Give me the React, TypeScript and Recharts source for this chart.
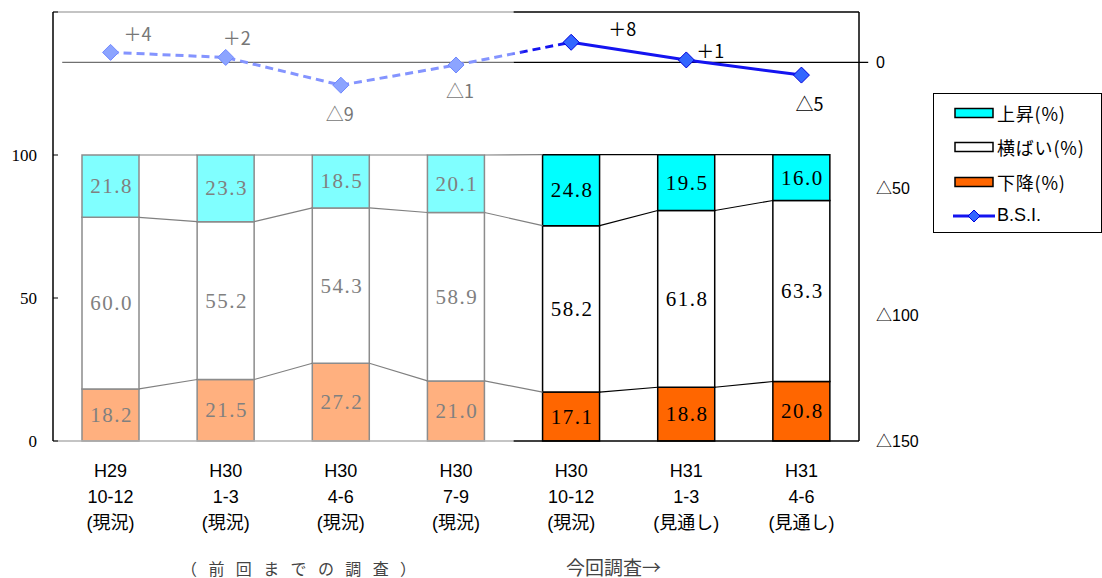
import {
  Bar,
  Cell,
  ComposedChart,
  LabelList,
  Legend,
  Line,
  ReferenceLine,
  XAxis,
  YAxis,
} from "recharts"

// 調査時期
const eras = ["H29", "H30", "H30", "H30", "H30", "H31", "H31"]
const months = ["10-12", "1-3", "4-6", "7-9", "10-12", "1-3", "4-6"]
const statuses = ["(現況)", "(現況)", "(現況)", "(現況)", "(現況)", "(見通し)", "(見通し)"]

// 構成比 (%)
const rise = [21.8, 23.3, 18.5, 20.1, 24.8, 19.5, 16.0]
const flat = [60.0, 55.2, 54.3, 58.9, 58.2, 61.8, 63.3]
const fall = [18.2, 21.5, 27.2, 21.0, 17.1, 18.8, 20.8]
// B.S.I.
const bsi = [4, 2, -9, -1, 8, 1, -5]

const PAST_COUNT = 4 // 前回までの調査
const leftTicks = [0, 50, 100, 150]
const rightTicks = [-150, -100, -50, 0]
const legendNames = ["上昇(%)", "横ばい(%)", "下降(%)", "B.S.I."]

// layout
const W = 1102
const H = 578
const MARGIN = { top: 12, right: 173, bottom: 37, left: 0 }
const LEFT_W = 53
const RIGHT_W = 70
const BAR = 57
const PLOT_W = W - MARGIN.left - MARGIN.right - LEFT_W - RIGHT_W
const HALF = BAR / (PLOT_W / eras.length) / 2

const SANS = "'Liberation Sans', 'Noto Sans CJK JP', sans-serif"
const CJK = "'Noto Sans CJK JP', sans-serif"
const SERIF = "'Liberation Serif', 'DejaVu Serif', serif"

const C = {
  rise: "#00FFFF",
  risePast: "#80FFFF",
  fall: "#FF6600",
  fallPast: "#FFB07F",
  edge: "#000000",
  edgePast: "#8C8C8C",
  bsi: "#1414F0",
  bsiPast: "#8494FF",
  dot: "#3366FF",
  dotPast: "#8CA4FF",
}

const rows = eras.map((_, i) => ({
  i,
  fall: fall[i],
  flat: flat[i],
  rise: rise[i],
  bsiPast: i < PAST_COUNT ? bsi[i] : null,
  bsiBridge: i === PAST_COUNT - 1 || i === PAST_COUNT ? bsi[i] : null,
  bsiNow: i >= PAST_COUNT ? bsi[i] : null,
}))

const levels = [
  fall,
  fall.map((v, i) => v + flat[i]),
  fall.map((v, i) => v + flat[i] + rise[i]),
]

function connector(level: number[], from: number, to: number) {
  const pts: { x: number; y: number | null }[] = []
  for (let i = from; i < to; i++) {
    pts.push({ x: i + HALF, y: level[i] })
    pts.push({ x: i + 1 - HALF, y: level[i + 1] })
    pts.push({ x: i + 1, y: null })
  }
  return pts
}

const isPast = (i: number) => i < PAST_COUNT

function bsiText(v: number) {
  return v > 0 ? `＋${v}` : v < 0 ? `△${-v}` : "0"
}

// label offsets from each B.S.I. marker
const LABEL_DX = [27, 11, -1, 4, 51, 24, 8]
const LABEL_DY = [-19, -20, 28, 25, -14, -10, 28]

function diamond(fill: string, stroke: string) {
  return (p: any) => {
    const { cx, cy, index } = p
    if (cy == null || cx == null) return <g key={index} />
    return (
      <path
        key={index}
        d={`M${cx},${cy - 8}L${cx + 8},${cy}L${cx},${cy + 8}L${cx - 8},${cy}Z`}
        fill={fill}
        stroke={stroke}
        strokeWidth={1}
      />
    )
  }
}

function bsiLabel(p: any) {
  const { x, y, value, index } = p
  if (value == null) return null
  return (
    <text
      x={x + LABEL_DX[index]}
      y={y + LABEL_DY[index]}
      textAnchor="middle"
      dominantBaseline="central"
      fontFamily={CJK}
      fontSize={18}
      fill={isPast(index) ? "#777" : "#000"}
    >
      {bsiText(value)}
    </text>
  )
}

function barLabel(p: any) {
  const { x, y, width, height, value, index } = p
  return (
    <text
      x={x + width / 2 + 1}
      y={y + height / 2}
      textAnchor="middle"
      dominantBaseline="central"
      fontFamily={SERIF}
      fontSize={21}
      letterSpacing={1.5}
      fill={isPast(index) ? "#808080" : "#000"}
    >
      {Number(value).toFixed(1)}
    </text>
  )
}

function CatTick({ x, y, payload }: any) {
  const i = payload.value
  return (
    <text textAnchor="middle" fontFamily={SANS} fontSize={18} fill="#000">
      <tspan x={x} y={y + 36}>{eras[i]}</tspan>
      <tspan x={x} y={y + 62}>{months[i]}</tspan>
      <tspan x={x} y={y + 88}>{statuses[i]}</tspan>
    </text>
  )
}

function LegendBox() {
  const swatch = [C.rise, "#FFFFFF", C.fall]
  return (
    <div
      style={{
        width: 169,
        height: 140,
        border: "1.5px solid #000",
        boxSizing: "border-box",
        background: "#fff",
        position: "relative",
        fontFamily: SANS,
        fontSize: 18,
      }}
    >
      {legendNames.map((name, k) => (
        <div
          key={name}
          style={{
            position: "absolute",
            left: 19,
            top: 6 + k * 34.3,
            height: 26,
            display: "flex",
            alignItems: "center",
            whiteSpace: "nowrap",
          }}
        >
          <svg width={44} height={16}>
            {k < 3 ? (
              <rect x={2} y={3.5} width={38} height={9} fill={swatch[k]} stroke="#000" strokeWidth={1.5} />
            ) : (
              <>
                <line x1={0} y1={8} x2={42} y2={8} stroke={C.bsi} strokeWidth={3} />
                <path d="M21,2L27,8L21,14L15,8Z" fill={C.dot} stroke="#0000DD" />
              </>
            )}
          </svg>
          <span style={{ fontFamily: k < 3 ? CJK : SANS, letterSpacing: k < 3 ? 0.8 : 0 }}>{name}</span>
        </div>
      ))}
    </div>
  )
}

export default function App() {
  const last = eras.length - 0.5
  const split = PAST_COUNT - 0.5
  return (
    <div style={{ position: "absolute", left: 0, top: 0, width: W, height: H, background: "#fff" }}>
      <ComposedChart width={W} height={H} data={rows} margin={MARGIN} barSize={BAR}>
        <defs>
          <linearGradient id="bridge" x1="0" y1="0" x2="1" y2="0">
            <stop offset="0" stopColor={C.bsiPast} />
            <stop offset="0.48" stopColor={C.bsiPast} />
            <stop offset="0.6" stopColor={C.bsi} />
            <stop offset="1" stopColor={C.bsi} />
          </linearGradient>
        </defs>
        <XAxis
          xAxisId="cat"
          dataKey="i"
          type="category"
          axisLine={false}
          tickLine={false}
          tickSize={0}
          tickMargin={0}
          height={100}
          tick={<CatTick />}
          interval={0}
        />
        <XAxis xAxisId="num" dataKey="x" type="number" domain={[-0.5, last]} allowDataOverflow hide />
        <YAxis
          yAxisId="left"
          domain={[0, 150]}
          ticks={leftTicks}
          width={LEFT_W}
          axisLine={{ stroke: "#000", strokeWidth: 1.5 }}
          tickLine={{ stroke: "#000" }}
          tickSize={-5}
          tickMargin={21}
          tick={{ fontFamily: SERIF, fontSize: 17, fill: "#000" }}
          tickFormatter={(v) => (v === 150 ? "" : String(v))}
        />
        <YAxis
          yAxisId="right"
          orientation="right"
          domain={[-150, 20]}
          ticks={rightTicks}
          width={RIGHT_W}
          axisLine={{ stroke: "#000", strokeWidth: 1.5 }}
          tickLine={false}
          tickSize={8}
          tickMargin={9}
          tick={{ fontFamily: SANS, fontSize: 16, fill: "#000", textAnchor: "start" }}
          tickFormatter={(v) => (v < 0 ? `△${-v}` : String(v))}
        />

        {/* frame */}
        <ReferenceLine xAxisId="num" yAxisId="left" segment={[{ x: -0.5, y: 150 }, { x: split, y: 150 }]} stroke="#B0B0B0" strokeWidth={1.5} />
        <ReferenceLine xAxisId="num" yAxisId="left" segment={[{ x: split, y: 150 }, { x: last, y: 150 }]} stroke="#000" strokeWidth={1.5} />
        <ReferenceLine xAxisId="num" yAxisId="left" segment={[{ x: -0.5, y: 0 }, { x: split, y: 0 }]} stroke="#B0B0B0" strokeWidth={1.5} />
        <ReferenceLine xAxisId="num" yAxisId="left" segment={[{ x: split, y: 0 }, { x: last, y: 0 }]} stroke="#000" strokeWidth={1.5} />
        <ReferenceLine xAxisId="num" yAxisId="right" segment={[{ x: -0.42, y: 0 }, { x: split, y: 0 }]} stroke="#707070" strokeWidth={1.2} />
        <ReferenceLine xAxisId="num" yAxisId="right" segment={[{ x: split, y: 0 }, { x: last + 0.08, y: 0 }]} stroke="#000" strokeWidth={1.2} ifOverflow="visible" />

        <Bar xAxisId="cat" yAxisId="left" dataKey="fall" stackId="s" isAnimationActive={false}>
          {rows.map((r) => (
            <Cell key={r.i} fill={isPast(r.i) ? C.fallPast : C.fall} stroke={isPast(r.i) ? C.edgePast : C.edge} strokeWidth={1.5} />
          ))}
          <LabelList dataKey="fall" content={barLabel} />
        </Bar>
        <Bar xAxisId="cat" yAxisId="left" dataKey="flat" stackId="s" isAnimationActive={false}>
          {rows.map((r) => (
            <Cell key={r.i} fill="#FFFFFF" stroke={isPast(r.i) ? C.edgePast : C.edge} strokeWidth={1.5} />
          ))}
          <LabelList dataKey="flat" content={barLabel} />
        </Bar>
        <Bar xAxisId="cat" yAxisId="left" dataKey="rise" stackId="s" isAnimationActive={false}>
          {rows.map((r) => (
            <Cell key={r.i} fill={isPast(r.i) ? C.risePast : C.rise} stroke={isPast(r.i) ? C.edgePast : C.edge} strokeWidth={1.5} />
          ))}
          <LabelList dataKey="rise" content={barLabel} />
        </Bar>

        {levels.map((lv, k) => (
          <Line
            key={`cp${k}`}
            xAxisId="num"
            yAxisId="left"
            data={connector(lv, 0, PAST_COUNT)}
            dataKey="y"
            stroke="#808080"
            strokeWidth={1.2}
            dot={false}
            activeDot={false}
            legendType="none"
            isAnimationActive={false}
          />
        ))}
        {levels.map((lv, k) => (
          <Line
            key={`cn${k}`}
            xAxisId="num"
            yAxisId="left"
            data={connector(lv, PAST_COUNT, eras.length - 1)}
            dataKey="y"
            stroke="#000"
            strokeWidth={1.2}
            dot={false}
            activeDot={false}
            legendType="none"
            isAnimationActive={false}
          />
        ))}

        <Line
          xAxisId="cat"
          yAxisId="right"
          dataKey="bsiBridge"
          stroke="url(#bridge)"
          strokeWidth={3}
          strokeDasharray="8 5"
          dot={false}
          activeDot={false}
          isAnimationActive={false}
        />
        <Line
          xAxisId="cat"
          yAxisId="right"
          dataKey="bsiPast"
          stroke={C.bsiPast}
          strokeWidth={3}
          strokeDasharray="8 5"
          dot={diamond(C.dotPast, "#7088FF")}
          activeDot={false}
          isAnimationActive={false}
        >
          <LabelList dataKey="bsiPast" content={bsiLabel} />
        </Line>
        <Line
          xAxisId="cat"
          yAxisId="right"
          dataKey="bsiNow"
          stroke={C.bsi}
          strokeWidth={3}
          dot={diamond(C.dot, "#0000DD")}
          activeDot={false}
          isAnimationActive={false}
        >
          <LabelList dataKey="bsiNow" content={bsiLabel} />
        </Line>

        <Legend
          layout="vertical"
          align="center"
          verticalAlign="middle"
          wrapperStyle={{ left: 933, top: 93, width: 169, height: 140 }}
          content={() => <LegendBox />}
        />
      </ComposedChart>
      <svg width={W} height={40} style={{ position: "absolute", left: 0, top: 545, pointerEvents: "none" }}>
        <text x={181} y={30} fontFamily={CJK} fontSize={16} letterSpacing={3.9} fill="#444">
          （ 前 回 ま で の 調 査 ）
        </text>
        <text x={566} y={30} fontFamily={CJK} fontSize={19} fill="#444">
          今回調査→
        </text>
      </svg>
    </div>
  )
}
